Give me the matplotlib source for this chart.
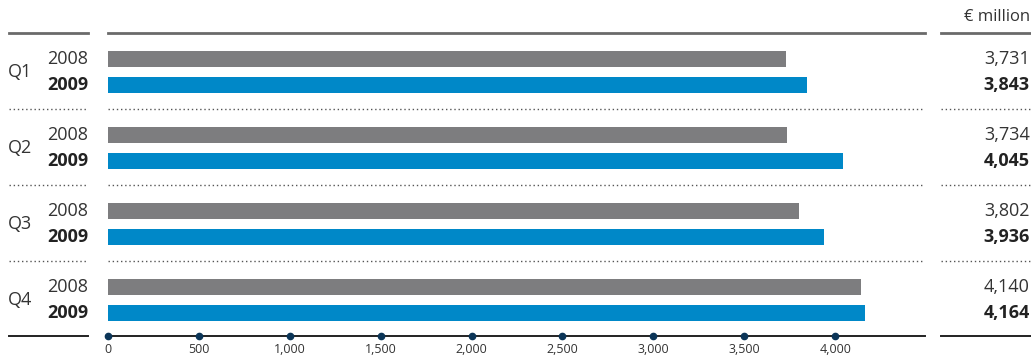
import matplotlib.pyplot as plt
from matplotlib.transforms import blended_transform_factory
from matplotlib.lines import Line2D

quarters = ["Q1", "Q2", "Q3", "Q4"]
years = ["2008", "2009"]
sales_2008 = [3731, 3734, 3802, 4140]
sales_2009 = [3843, 4045, 3936, 4164]
ticks = [0, 500, 1000, 1500, 2000, 2500, 3000, 3500, 4000]
unit = "€ million"

W, H = 1031, 358
grey = "#7d7d7f"
blue = "#0088c8"
txt = "#333333"

plt.rcParams['font.family'] = ['Open Sans', 'DejaVu Sans']

fig = plt.figure(figsize=(W / 100, H / 100), dpi=100)
# axes spans x 108..925 px, y 33..336 px (from top)
ax = fig.add_axes([108 / W, 1 - 336 / H, (925 - 108) / W, (336 - 33) / H])
ax.set_xlim(0, 4494)
ax.set_ylim(303, 0)

step = 76
h = 16
for i in range(len(quarters)):
    y0 = 26 + step * i
    ax.barh(y0, sales_2008[i], height=h, color=grey)
    ax.barh(y0 + 26, sales_2009[i], height=h, color=blue)

for s in ["top", "left", "right"]:
    ax.spines[s].set_visible(False)
ax.spines["bottom"].set_color("#222222")
ax.spines["bottom"].set_linewidth(1.4)
ax.set_yticks([])
ax.set_xticks(ticks)
ax.set_xticklabels([f"{t:,}" for t in ticks], fontsize=9, color=txt)
ax.tick_params(axis="x", length=0, pad=5)
ax.plot(ticks, [303] * len(ticks), "o", ms=4.5, color="#0b3558", clip_on=False, zorder=5)

# top line and dotted separators in middle
ax.axhline(0, color="#6a6a6a", lw=2, clip_on=False)
for i in range(1, len(quarters)):
    ax.axhline(step * i, color="#555555", lw=1, ls=(0, (1, 2)))

tr = blended_transform_factory(fig.transFigure, ax.transData)
def fx(px):
    return px / W

for x1, x2 in [(9, 88), (941, 1031)]:
    fig.add_artist(Line2D([fx(x1), fx(x2)], [0, 0], transform=tr, color="#6a6a6a", lw=2))
    fig.add_artist(Line2D([fx(x1), fx(x2)], [303, 303], transform=tr, color="#222222", lw=1.4))
    for i in range(1, len(quarters)):
        fig.add_artist(Line2D([fx(x1), fx(x2)], [step * i] * 2, transform=tr,
                              color="#555555", lw=1, ls=(0, (1, 2))))

fs = 13
for i, q in enumerate(quarters):
    y0 = 26 + step * i
    fig.text(fx(8), y0 + 13, q, transform=tr, ha="left", va="center", fontsize=fs, color=txt)
    fig.text(fx(88), y0, years[0], transform=tr, ha="right", va="center", fontsize=fs, color=txt)
    fig.text(fx(88), y0 + 26, years[1], transform=tr, ha="right", va="center", fontsize=fs,
             color="#222222", fontweight="bold")
    fig.text(fx(1030), y0, f"{sales_2008[i]:,}", transform=tr, ha="right", va="center",
             fontsize=fs, color=txt)
    fig.text(fx(1030), y0 + 26, f"{sales_2009[i]:,}", transform=tr, ha="right", va="center",
             fontsize=fs, color="#222222", fontweight="bold")

fig.text(fx(1030), 1 - 17 / H, unit, ha="right", va="center", fontsize=12, color=txt)

fig.savefig("out.png", dpi=100)
